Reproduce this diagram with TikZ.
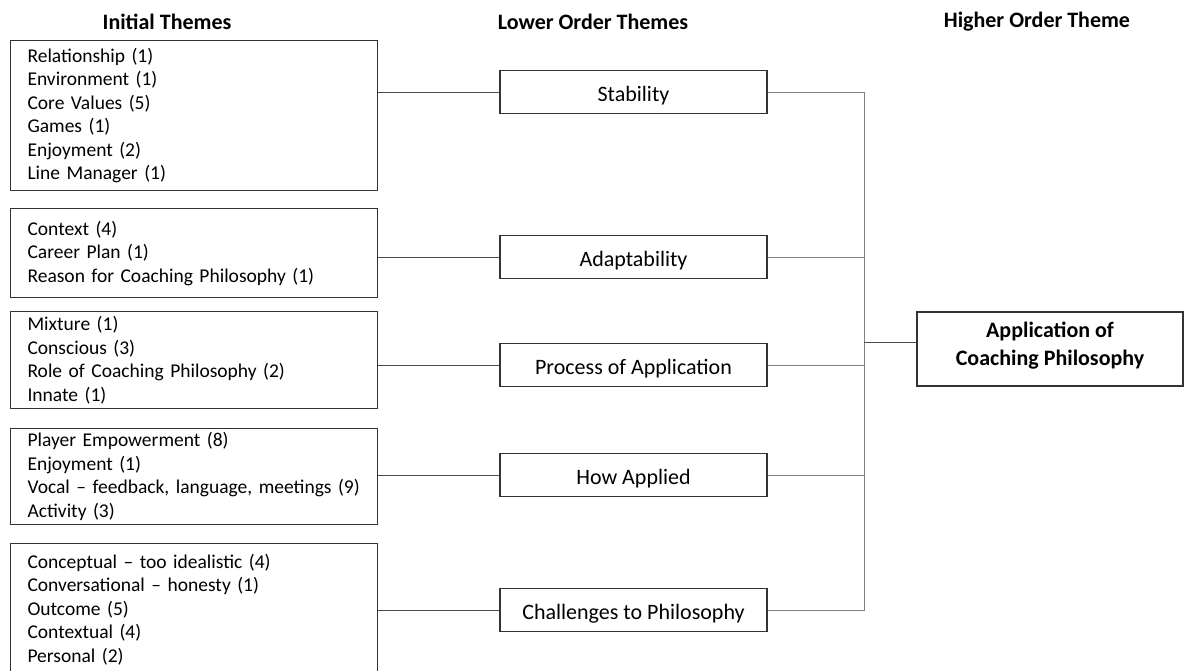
\documentclass[tikz,border=0pt]{standalone}
\usepackage{fontspec}
\setmainfont{Carlito}
\begin{document}
\begin{tikzpicture}[x=1pt,y=-1pt,
  txt/.style={font=\fontsize{19.5}{23.5}\selectfont},
  big/.style={font=\fontsize{22}{25}\selectfont},
  head/.style={font=\fontsize{22}{25}\selectfont\bfseries},
  initial/.style={txt, draw=black!80, line width=1.1pt, anchor=north west, align=left,
    text width=333pt, inner xsep=17pt, inner ysep=0pt},
  lower/.style={big, draw=black!80, line width=1.1pt, minimum width=267pt, minimum height=43pt,
    text height=21pt, text depth=2pt},
  higher/.style={font=\fontsize{22}{28}\selectfont\bfseries, draw=black!80, line width=1.1pt, minimum width=266pt, minimum height=74pt, align=center, inner sep=0pt, text depth=11pt},
  link/.style={draw=black!70, line width=0.8pt},
  rlink/.style={draw=black!50, line width=0.8pt}]
\useasboundingbox (0,0) rectangle (1185,670);
\clip (0,0) rectangle (1185,670);
\fill[white] (0,0) rectangle (1185,670);

\node[head] (h1) at (167,22) {Initial Themes};
\node[head] (h2) at (593,22) {Lower Order Themes};
\node[head] (h3) at (1037,22) {Higher Order Theme};

\node[initial, minimum height=150pt] (i1) at (10,40) {Relationship (1)\\Environment (1)\\Core Values (5)\\Games (1)\\Enjoyment (2)\\Line Manager (1)};
\node[initial, minimum height=89pt] (i2) at (10,208) {Context (4)\\Career Plan (1)\\Reason for Coaching Philosophy (1)};
\node[initial, minimum height=97pt] (i3) at (10,311) {Mixture (1)\\Conscious (3)\\Role of Coaching Philosophy (2)\\Innate (1)};
\node[initial, minimum height=96pt] (i4) at (10,428) {Player Empowerment (8)\\Enjoyment (1)\\Vocal -- feedback, language, meetings (9)\\Activity (3)};
\node[initial, minimum height=132pt] (i5) at (10,543) {Conceptual -- too idealistic (4)\\Conversational -- honesty (1)\\Outcome (5)\\Contextual (4)\\Personal (2)};

\node[lower] (s1) at (633.5,92) {Stability};
\node[lower] (s2) at (633.5,257) {Adaptability};
\node[lower] (s3) at (633.5,365) {Process of Application};
\node[lower] (s4) at (633.5,475) {How Applied};
\node[lower] (s5) at (633.5,610) {Challenges to Philosophy};

\node[higher] (h) at (1050,349) {Application of\\Coaching Philosophy};

\draw[link] (s1.west) -- (s1.west -| i1.east);
\draw[link] (s2.west) -- (s2.west -| i2.east);
\draw[link] (s3.west) -- (s3.west -| i3.east);
\draw[link] (s4.west) -- (s4.west -| i4.east);
\draw[link] (s5.west) -- (s5.west -| i5.east);

\coordinate (vt) at (864,92);
\coordinate (vb) at (864,610);
\draw[rlink] (s1.east) -- (vt) -- (vb) -- (s5.east);
\draw[rlink] (s2.east) -- (s2.east -| vt);
\draw[rlink] (s3.east) -- (s3.east -| vt);
\draw[rlink] (s4.east) -- (s4.east -| vt);
\draw[link] ([yshift=7pt]h.west) -- ([yshift=7pt]h.west -| vt);
\end{tikzpicture}
\end{document}
